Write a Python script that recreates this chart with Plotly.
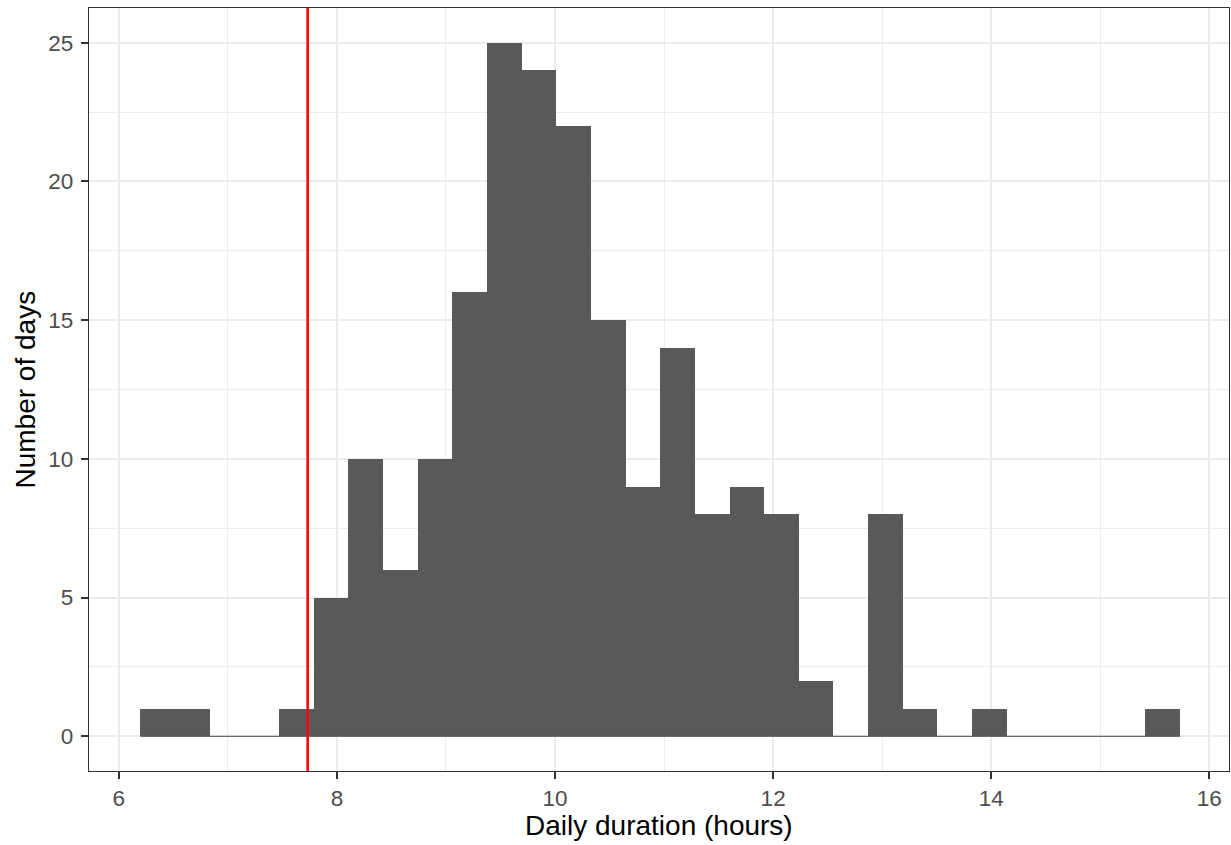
import plotly.graph_objects as go

# Histogram data (30 bins)
bin_start = 6.199
bin_width = 0.3177
counts = [1, 1, 0, 0, 1, 5, 10, 6, 10, 16, 25, 24, 22, 15, 9, 14, 8, 9, 8, 2,
          0, 8, 1, 0, 1, 0, 0, 0, 0, 1]
threshold = 7.732
x_ticks = [6, 8, 10, 12, 14, 16]
y_ticks = [0, 5, 10, 15, 20, 25]
x_title = "Daily duration (hours)"
y_title = "Number of days"

centers = [bin_start + bin_width * (i + 0.5) for i in range(len(counts))]
x_end = bin_start + bin_width * len(counts)

fig = go.Figure()
# baseline for empty bins (ggplot draws zero-height rects)
fig.add_trace(go.Scatter(x=[bin_start, x_end], y=[0, 0], mode="lines",
                         line=dict(color="#4D4D4D", width=1),
                         hoverinfo="skip", showlegend=False))
fig.add_trace(go.Bar(x=centers, y=counts, width=[bin_width] * len(counts),
                     marker=dict(color="#595959", line=dict(width=0)),
                     showlegend=False))
fig.add_trace(go.Scatter(x=[threshold, threshold], y=[-10, 40], mode="lines",
                         line=dict(color="#FF0000", width=2.6),
                         hoverinfo="skip", showlegend=False))

font_family = "Liberation Sans, Arial, sans-serif"
axis_common = dict(
    showline=True, linecolor="#333333", linewidth=1.3, mirror=True,
    ticks="outside", ticklen=7, tickwidth=2, tickcolor="#333333",
    tickfont=dict(family=font_family, size=22.5, color="#4D4D4D"),
    showgrid=True, gridcolor="#EBEBEB", gridwidth=2,
    zeroline=False, automargin=False,
)

fig.update_layout(
    width=1231, height=845,
    margin=dict(l=89, r=2, t=8, b=73.5),
    paper_bgcolor="white", plot_bgcolor="white",
    bargap=0,
    xaxis=dict(range=[5.727, 16.18], tickvals=x_ticks,
               minor=dict(dtick=1, tick0=0, showgrid=True, gridcolor="#EBEBEB", gridwidth=1),
               **axis_common),
    yaxis=dict(range=[-1.25, 26.25], tickvals=y_ticks, ticklabelstandoff=3,
               minor=dict(dtick=2.5, tick0=0, showgrid=True, gridcolor="#EBEBEB", gridwidth=1),
               **axis_common),
    annotations=[
        dict(text=x_title, xref="paper", yref="paper", x=0.5, y=0,
             xanchor="center", yanchor="middle", yshift=-54.5, showarrow=False,
             font=dict(family=font_family, size=28, color="black")),
        dict(text=y_title, xref="paper", yref="paper", x=0, y=0.5,
             xanchor="center", yanchor="middle", xshift=-64, textangle=-90,
             showarrow=False,
             font=dict(family=font_family, size=28, color="black")),
    ],
)

fig.write_html("out.html",
               config={"displayModeBar": False},
               post_script="document.body.style.margin='0';document.body.style.overflow='hidden';")
